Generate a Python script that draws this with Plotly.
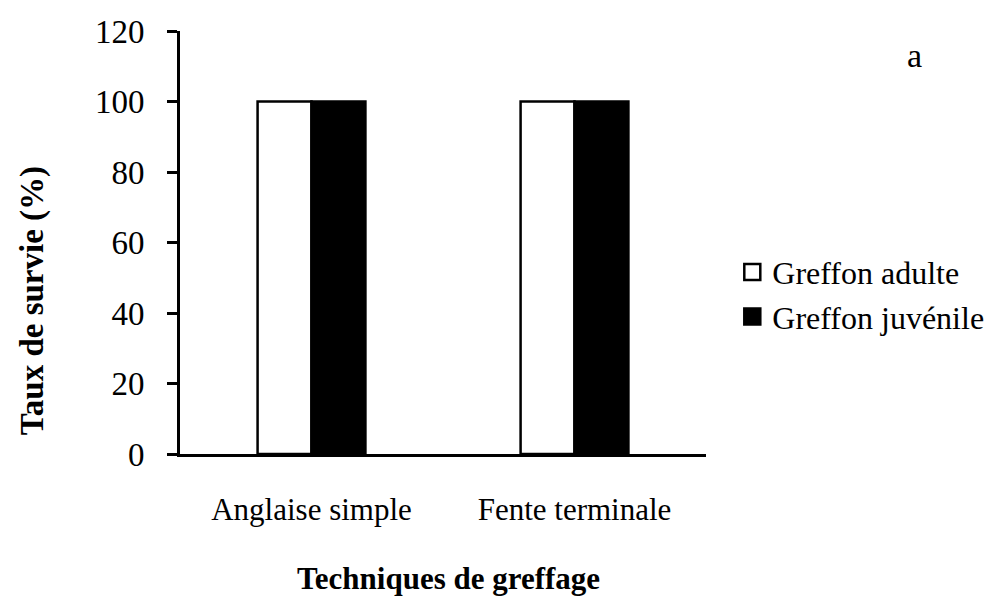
import plotly.graph_objects as go

# data
techniques = ["Anglaise simple", "Fente terminale"]
adulte = [100, 100]
juvenile = [100, 100]
y_ticks = [0, 20, 40, 60, 80, 100, 120]

FONT = "Liberation Serif, Times New Roman, serif"

fig = go.Figure()

fig.add_trace(go.Bar(
    x=techniques, y=adulte, name="Greffon adulte", showlegend=False,
    marker=dict(color="white", line=dict(color="black", width=2.5))
))
fig.add_trace(go.Bar(
    x=techniques, y=juvenile, name="Greffon juvénile", showlegend=False,
    marker=dict(color="black", line=dict(color="black", width=2.5))
))

# legend entries with bigger square symbols
fig.add_trace(go.Scatter(
    x=[None], y=[None], mode="markers", name="Greffon adulte",
    marker=dict(symbol="square", size=16, color="white", line=dict(color="black", width=2.5))
))
fig.add_trace(go.Scatter(
    x=[None], y=[None], mode="markers", name="Greffon juvénile",
    marker=dict(symbol="square", size=16, color="black", line=dict(color="black", width=2.5))
))

fig.update_layout(
    width=996, height=598,
    barmode="group",
    bargap=0.59,
    bargroupgap=0,
    plot_bgcolor="white",
    paper_bgcolor="white",
    font=dict(family=FONT, size=31, color="black"),
    margin=dict(l=172, r=298, t=23, b=152, autoexpand=False),
    showlegend=True,
    legend=dict(
        x=1.05, y=0.495, xanchor="left", yanchor="top",
        font=dict(size=32), itemwidth=30, bgcolor="rgba(0,0,0,0)"
    ),
    annotations=[
        dict(text="a", x=(916 - 172) / 526, y=(446 - 27) / 423,
             xref="paper", yref="paper", showarrow=False, font=dict(size=34)),
        dict(text="<b>Taux de survie (%)</b>", textangle=-90, showarrow=False,
             xref="paper", yref="paper", x=-0.28, y=0.363,
             xanchor="center", yanchor="middle", font=dict(size=33)),
        dict(text="<b>Techniques de greffage</b>", showarrow=False,
             xref="paper", yref="paper", x=0.51, y=-0.295,
             xanchor="center", yanchor="middle", font=dict(size=31)),
    ]
)

fig.update_xaxes(
    showline=True, linecolor="black", linewidth=3, automargin=False,
    ticks="", ticklabelstandoff=26, showgrid=False
)

fig.update_yaxes(
    range=[0, 120], tickvals=y_ticks, automargin=False,
    showline=True, linecolor="black", linewidth=3,
    ticks="outside", ticklen=10, tickwidth=3, tickcolor="black",
    showgrid=False, zeroline=False,
    ticklabelstandoff=16, tickfont=dict(size=33)
)

fig.write_html("out.html")
